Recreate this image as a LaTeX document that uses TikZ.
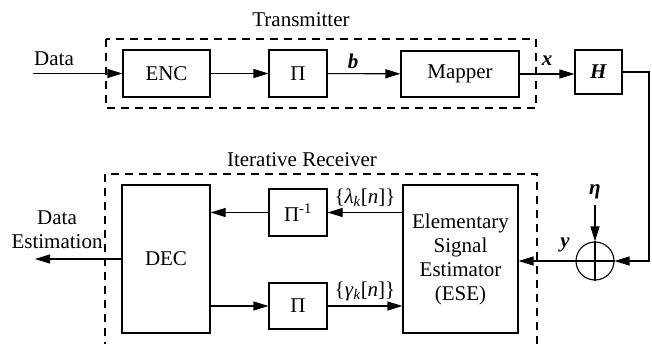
\documentclass[tikz,border=0pt]{standalone}
\usepackage{fontspec}
\setmainfont{Liberation Serif}
\usetikzlibrary{arrows.meta}
\begin{document}
\begin{tikzpicture}[x=1pt,y=-1pt, line width=1.1pt,
  >={Triangle[length=15pt,width=9pt]},
  every node/.style={font=\fontsize{21}{24}\selectfont, inner sep=0pt},
  blk/.style={draw, line width=1.1pt},
  dbox/.style={draw, dash pattern=on 8pt off 6pt, line width=1.3pt}]
\useasboundingbox (0,0) rectangle (652,344);
% dashed frames
\draw[dbox] (106,39) rectangle (536,108);
\draw[dbox] (105,350) -- (105,174) -- (537,174) -- (537,350);
\node (tx) at (301,20) {Transmitter};
\node (rx) at (302,160) {Iterative Receiver};
% transmitter blocks
\node[blk, minimum width=87pt, minimum height=47pt] (enc) at (166.5,73.5) {ENC};
\node[blk, minimum width=58pt, minimum height=47pt] (pi1) at (298,73.5) {Π};
\node[blk, minimum width=118pt, minimum height=46pt] (map) at (460,74) {Mapper};
\node[blk, minimum width=47pt, minimum height=44pt] (H) at (598.5,72) {\textbf{\textit{H}}};
% receiver blocks
\node[blk, minimum width=115pt, minimum height=148pt, align=center] (ese) at (460.5,259)
  {Elementary\\Signal\\Estimator\\(ESE)};
\node[blk, minimum width=88pt, minimum height=148pt] (dec) at (166,259) {DEC};
\node[blk, minimum width=58pt, minimum height=47pt] (pinv) at (298,212.5) {Π\textsuperscript{-1}};
\node[blk, minimum width=58pt, minimum height=46pt] (pi2) at (298,306) {Π};
\node[draw, circle, minimum size=38pt, line width=1.1pt] (sum) at (595,261) {};
\draw (sum.north) -- (sum.south) (sum.west) -- (sum.east);
% labels
\node (ldata) at (54,59) {Data};
\node[align=center] (ldest) at (57,230) {Data\\Estimation};
\node (lb) at (353,61) {\textbf{\textit{b}}};
\node (lx) at (547,61) {\textbf{\textit{x}}};
\node (ly) at (565,245) {\textbf{\textit{y}}};
\node (eta) at (595,192) {\textbf{\textit{η}}};
\node (llam) at (365,198) {\{\textit{λ}\textsubscript{\textit{k}}[\textit{n}]\}};
\node (lgam) at (365,291) {\{\textit{γ}\textsubscript{\textit{k}}[\textit{n}]\}};
% connectors
\coordinate (din) at (33,73.5);
\coordinate (dout) at (35,259);
\coordinate (rc) at (649,72);
\draw[->] (din) -- (enc.west);
\draw[->] (enc) -- (pi1);
\draw[->] (pi1) -- (map);
\draw[->] (map.east) -- (map.east -| H.west);
\draw[->] (H.east) -- (rc) |- (sum.east);
\draw[->] (595,205) -- (sum.north);
\draw[->] (sum.west) -- (sum.west -| ese.east);
\draw[->] (ese.west |- pinv) -- (pinv.east);
\draw[->] (pinv.west) -- (pinv.west -| dec.east);
\draw[->] (dec.east |- pi2) -- (pi2.west);
\draw[->] (pi2.east) -- (pi2.east -| ese.west);
\draw[->] (dec.west) -- (dout);
\end{tikzpicture}
\end{document}
